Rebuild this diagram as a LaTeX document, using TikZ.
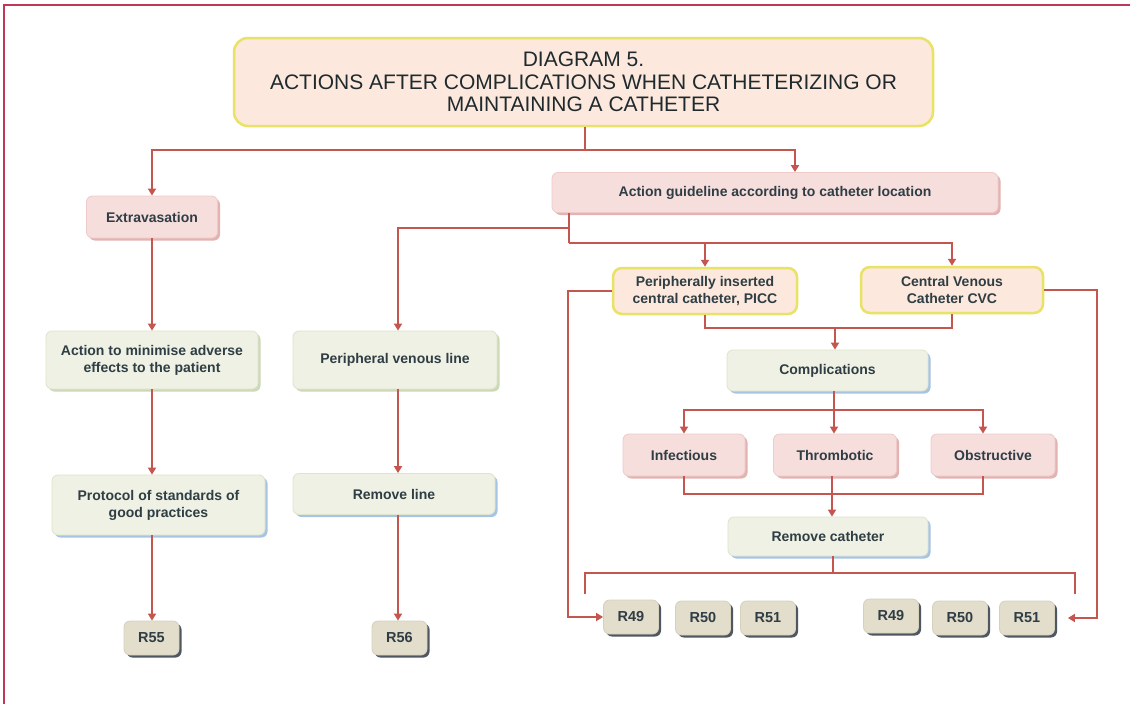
\documentclass[tikz,border=0pt]{standalone}
\usepackage{fontspec}
\setmainfont{Liberation Sans}
\usetikzlibrary{arrows.meta,shadows,calc}

\definecolor{ink}{HTML}{2F3E44}
\definecolor{titleInk}{HTML}{1F2A2E}
\definecolor{linkC}{HTML}{C4564F}
\definecolor{frameC}{HTML}{C2365A}
\definecolor{pinkF}{HTML}{F6DEDD}
\definecolor{pinkD}{HTML}{EECACA}
\definecolor{pinkS}{HTML}{E3B3B2}
\definecolor{greenF}{HTML}{EEF1E3}
\definecolor{greenD}{HTML}{DEE4CE}
\definecolor{greenS}{HTML}{CCD8B6}
\definecolor{blueS}{HTML}{A8C4E4}
\definecolor{peachF}{HTML}{FCE8DC}
\definecolor{yellowD}{HTML}{E8E266}
\definecolor{beigeF}{HTML}{E3DDCC}
\definecolor{beigeD}{HTML}{D6D0BE}
\definecolor{greyS}{HTML}{4F5760}

\begin{document}
\begin{tikzpicture}[x=1pt,y=-1pt,
  box/.style={rounded corners=6pt, inner sep=0pt, align=center, text=ink,
    font=\fontsize{14}{17}\selectfont\bfseries},
  pinkbox/.style={box, fill=pinkF, draw=pinkD, line width=0.8pt,
    general shadow={fill=pinkS, shadow xshift=2.5pt, shadow yshift=-2.5pt}},
  greenbox/.style={box, fill=greenF, draw=greenD, line width=0.8pt,
    general shadow={fill=greenS, shadow xshift=2.5pt, shadow yshift=-2.5pt}},
  bluebox/.style={box, fill=greenF, draw=greenD, line width=0.8pt,
    general shadow={fill=blueS, shadow xshift=2.5pt, shadow yshift=-2.5pt}},
  ybox/.style={box, fill=peachF, draw=yellowD, line width=2.5pt, rounded corners=9pt},
  rbox/.style={box, fill=beigeF, draw=beigeD, line width=0.8pt,
    minimum width=55pt, minimum height=34pt, font=\fontsize{14.5}{17}\selectfont\bfseries,
    general shadow={fill=greyS, shadow xshift=2.5pt, shadow yshift=-2.5pt}},
  link/.style={draw=linkC, line width=2.8pt},
  arrow/.style={link, -{Triangle[width=8pt,length=7pt]}}
]
\useasboundingbox (0,0) rectangle (1130,704);
\fill[white] (0,0) rectangle (1130,704);
\draw[frameC, line width=1.2pt] (4,704) -- (4,5) -- (1130,5);

% title
\node[ybox, rounded corners=14pt, minimum width=699pt, minimum height=88pt,
  text=titleInk, font=\fontsize{21}{22.5}\selectfont] (title) at (583.5,82)
  {DIAGRAM 5.\\ACTIONS AFTER COMPLICATIONS WHEN CATHETERIZING OR\\MAINTAINING A CATHETER};

% left column
\node[pinkbox, minimum width=131pt, minimum height=42pt] (extra) at (152,217) {Extravasation};
\node[greenbox, minimum width=212pt, minimum height=58pt] (ams) at (152,360)
  {Action to minimise adverse\\effects to the patient};
\node[bluebox, minimum width=213pt, minimum height=60pt] (proto) at (158.5,505)
  {Protocol of standards of\\good practices};
\node[rbox] (r55) at (151.5,638) {R55};

% middle column
\node[pinkbox, minimum width=446pt, minimum height=40pt] (guide) at (775,192.5)
  {Action guideline according to catheter location};
\node[greenbox, minimum width=204pt, minimum height=58pt] (pvl) at (395,360) {Peripheral venous line};
\node[bluebox, minimum width=202pt, minimum height=41pt] (rl) at (394,494) {Remove line};
\node[rbox] (r56) at (399.5,638) {R56};

% right part
\node[ybox, minimum width=184pt, minimum height=46pt] (picc) at (705,291)
  {Peripherally inserted\\central catheter, PICC};
\node[ybox, minimum width=182pt, minimum height=46pt] (cvc) at (952,290)
  {Central Venous\\Catheter CVC};
\node[bluebox, minimum width=201pt, minimum height=41pt] (comp) at (827.5,370.5) {Complications};
\node[pinkbox, minimum width=122pt, minimum height=42pt] (inf) at (684,455) {Infectious};
\node[pinkbox, minimum width=123pt, minimum height=42pt] (thr) at (835,455) {Thrombotic};
\node[pinkbox, minimum width=124pt, minimum height=42pt] (obs) at (993,455) {Obstructive};
\node[bluebox, minimum width=200pt, minimum height=39pt] (rc) at (828,536.5) {Remove catheter};

\node[rbox] (r49a) at (631,617) {R49};
\node[rbox] (r50a) at (703,618) {R50};
\node[rbox] (r51a) at (768,618) {R51};
\node[rbox] (r49b) at (891,616) {R49};
\node[rbox] (r50b) at (960,618) {R50};
\node[rbox] (r51b) at (1027,618) {R51};

% junctions
\coordinate (jTop) at (585,150);
\coordinate (jGuide) at (569,243);
\coordinate (jPvl) at (569,228);
\coordinate (jCat) at (835,328);
\coordinate (jComp) at (834,410);
\coordinate (jType) at (832,494);
\coordinate (jRem) at (833,573);
\coordinate (endL) at (585,594);
\coordinate (endR) at (1075,594);
\coordinate (sideL) at (568,450);
\coordinate (sideR) at (1097,450);

% connectors
\draw[link] (title.south -| jTop) -- (jTop);
\draw[arrow] (jTop) -| (extra.north);
\draw[arrow] (jTop) -| ([xshift=20pt]guide.north);

\draw[arrow] (extra.south) -- (extra.south |- ams.north);
\draw[arrow] (ams.south) -- (ams.south |- proto.north);
\draw[arrow] (ams.south |- proto.south) -- (ams.south |- r55.north);

\draw[link] (guide.south -| jGuide) -- (jGuide);
\draw[arrow] (jPvl) -| ([xshift=3pt]pvl.north);
\draw[arrow] (jGuide) -| (picc.north);
\draw[arrow] (jGuide) -| (cvc.north);

\draw[arrow] ([xshift=3pt]pvl.south) -- ([xshift=3pt]pvl.south |- rl.north);
\draw[arrow] ([xshift=3pt]pvl.south |- rl.south) -- ([xshift=3pt]pvl.south |- r56.north);

\draw[link] (picc.south) |- (jCat) -| (cvc.south);
\draw[arrow] (jCat) -- (jCat |- comp.north);
\draw[link] (comp.south -| jComp) -- (jComp);
\draw[arrow] (jComp) -| (inf.north);
\draw[arrow] (jComp) -- (jComp |- thr.north);
\draw[arrow] (jComp) -| ([xshift=-10pt]obs.north);
\draw[link] (inf.south) |- (jType) -| ([xshift=-10pt]obs.south);
\draw[arrow] (thr.south -| jType) -- (jType |- rc.north);
\draw[link] (rc.south -| jRem) -- (jRem);
\draw[link] (endL) |- (jRem) -| (endR);

\draw[arrow] (picc.west) -| (sideL) |- (r49a.west);
\draw[arrow] (cvc.east) -| (sideR) |- ([xshift=13pt]r51b.east);
\end{tikzpicture}
\end{document}
